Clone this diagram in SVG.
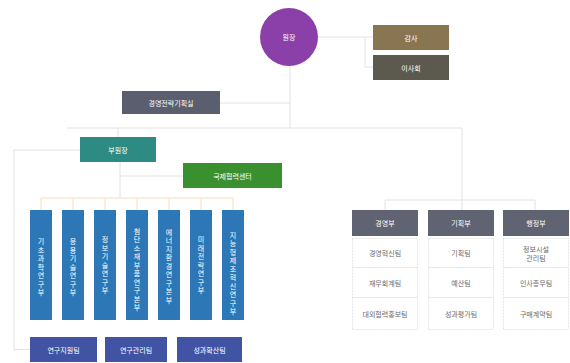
<svg xmlns="http://www.w3.org/2000/svg" width="570" height="363" viewBox="0 0 570 363">
<style>
text{font-family:"Noto Sans CJK KR","Noto Sans",sans-serif;font-size:7px;text-anchor:middle;dominant-baseline:central}
.w{fill:#ffffff}
.d{fill:#6a6a6a}
.ln{fill:none;stroke:#e2e2e2;stroke-width:1}
.or{fill:none;stroke:#f7dcb8;stroke-width:1}
.blue{fill:#2e77b7}
.ind{fill:#4153a3}
.hd{fill:#5f6372}
.it{fill:#ffffff;stroke:#e4e4e4;stroke-width:1;stroke-dasharray:2 1}
.v{writing-mode:vertical-rl;text-orientation:upright;letter-spacing:1.5px}
</style>
<rect width="570" height="363" fill="#ffffff"/>
<g id="connectors">
<path class="ln" d="M318 37H365V67M365 37H373M365 67H373"/>
<path class="ln" d="M290 66V128"/>
<path class="ln" d="M220 103H290"/>
<path class="ln" d="M67 128H462V200"/>
<path class="ln" d="M118 128V137"/>
<path class="ln" d="M385 200H535M385 200V210M535 200V210M462 200V210"/>
<path class="ln" d="M120 162V198M120 176H183"/>
<path class="ln" d="M80 150H14V349.5H30"/>
<path class="or" d="M41 198H233M41 198V210M73 198V210M105 198V210M137 198V210M169 198V210M201 198V210M233 198V210"/>
</g>
<g id="president"><circle cx="289" cy="37" r="29" fill="#8b3fa8"/><text class="w" x="289" y="37">원장</text></g>
<g id="audit"><rect x="373" y="25" width="76" height="25" fill="#8a7553"/><text class="w" x="411" y="37.5">감사</text></g>
<g id="board"><rect x="373" y="55" width="76" height="25" fill="#5c5a4f"/><text class="w" x="411" y="67.5">이사회</text></g>
<g id="planning"><rect x="122" y="91" width="98" height="23" fill="#5a5e6e"/><text class="w" x="171" y="102.5">경영전략기획실</text></g>
<g id="vice"><rect x="80" y="137" width="76" height="25" fill="#2e8b84"/><text class="w" x="118" y="149.5">부원장</text></g>
<g id="center"><rect x="183" y="163" width="99" height="25" fill="#3a902f"/><text class="w" x="232.5" y="175.5">국제협력센터</text></g>
<g id="div1"><rect class="blue" x="30" y="210" width="22" height="110"/><text class="w v" x="41" y="268">기초과학연구부</text></g>
<g id="div2"><rect class="blue" x="62" y="210" width="22" height="110"/><text class="w v" x="73" y="268">응용기술연구부</text></g>
<g id="div3"><rect class="blue" x="94" y="210" width="22" height="110"/><text class="w v" x="105" y="266">정보기술연구부</text></g>
<g id="div4"><rect class="blue" x="126" y="210" width="22" height="110"/><text class="w v" x="137" y="270">첨단소재부품연구본부</text></g>
<g id="div5"><rect class="blue" x="158" y="210" width="22" height="110"/><text class="w v" x="169" y="267">에너지환경연구본부</text></g>
<g id="div6"><rect class="blue" x="190" y="210" width="22" height="110"/><text class="w v" x="201" y="266">미래전략연구부</text></g>
<g id="div7"><rect class="blue" x="222" y="210" width="22" height="110"/><text class="w v" x="233" y="274">지능형제조혁신연구부</text></g>
<g id="team1"><rect class="ind" x="30" y="337" width="67" height="25"/><text class="w" x="63.5" y="349.5">연구지원팀</text></g>
<g id="team2"><rect class="ind" x="105" y="337" width="62" height="25"/><text class="w" x="136" y="349.5">연구관리팀</text></g>
<g id="team3"><rect class="ind" x="177" y="337" width="65" height="25"/><text class="w" x="209.5" y="349.5">성과확산팀</text></g>
<g id="dept1">
<rect class="hd" x="352" y="210" width="66" height="26"/><text class="w" x="385" y="223">경영부</text>
<rect class="it" x="352.5" y="238.5" width="65" height="29"/><text class="d" x="385" y="253">경영혁신팀</text>
<rect class="it" x="352.5" y="267.5" width="65" height="30"/><text class="d" x="385" y="282.5">재무회계팀</text>
<rect class="it" x="352.5" y="297.5" width="65" height="32"/><text class="d" x="385" y="313.5">대외협력홍보팀</text>
</g>
<g id="dept2">
<rect class="hd" x="428" y="210" width="66" height="26"/><text class="w" x="461" y="223">기획부</text>
<rect class="it" x="428.5" y="238.5" width="65" height="29"/><text class="d" x="461" y="253">기획팀</text>
<rect class="it" x="428.5" y="267.5" width="65" height="30"/><text class="d" x="461" y="282.5">예산팀</text>
<rect class="it" x="428.5" y="297.5" width="65" height="32"/><text class="d" x="461" y="313.5">성과평가팀</text>
</g>
<g id="dept3">
<rect class="hd" x="503" y="210" width="66" height="26"/><text class="w" x="536" y="223">행정부</text>
<rect class="it" x="503.5" y="238.5" width="65" height="29"/><text class="d" x="536" y="248.5">정보시설</text><text class="d" x="536" y="257.5">관리팀</text>
<rect class="it" x="503.5" y="267.5" width="65" height="30"/><text class="d" x="536" y="282.5">인사총무팀</text>
<rect class="it" x="503.5" y="297.5" width="65" height="32"/><text class="d" x="536" y="313.5">구매계약팀</text>
</g>
</svg>
